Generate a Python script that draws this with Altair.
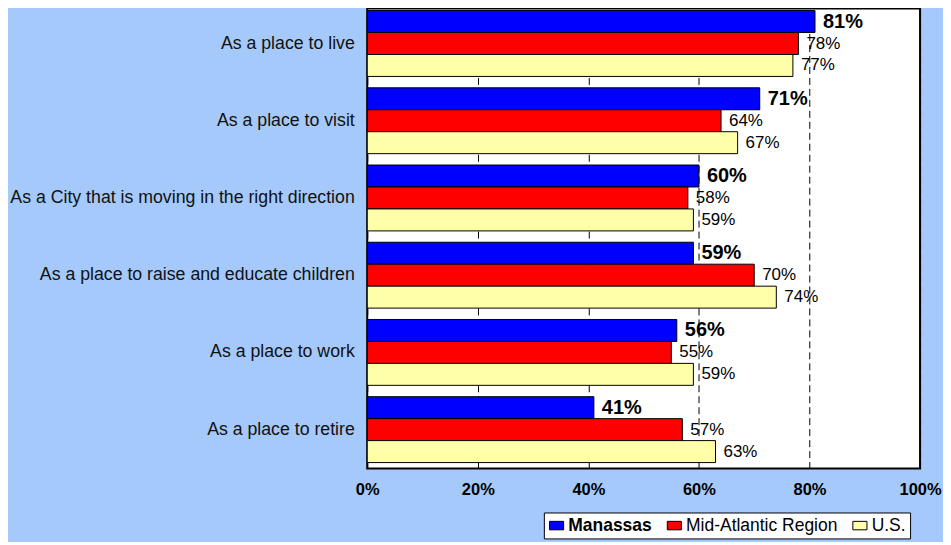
import altair as alt
import pandas as pd

questions = [
    "As a place to live",
    "As a place to visit",
    "As a City that is moving in the right direction",
    "As a place to raise and educate children",
    "As a place to work",
    "As a place to retire",
]
series = ["Manassas", "Mid-Atlantic Region", "U.S."]
manassas = [81, 71, 60, 59, 56, 41]
mid_atlantic = [78, 64, 58, 70, 55, 57]
us = [77, 67, 59, 74, 59, 63]
colors = ["#0000FF", "#FF0000", "#FFFFAA"]

rows = []
for i, q in enumerate(questions):
    for s, vals in zip(series, [manassas, mid_atlantic, us]):
        rows.append({"question": q, "series": s, "value": vals[i] / 100.0,
                     "label": f"{vals[i]}%"})
df = pd.DataFrame(rows)

y = alt.Y("question:N", sort=questions, title=None,
          scale=alt.Scale(paddingInner=0.147, paddingOuter=0.052, align=0.25),
          axis=alt.Axis(ticks=False, domain=False, labelFont="Liberation Sans",
                        labelFontSize=17.75, labelColor="#111111", labelPadding=13,
                        labelLimit=500))
yoff = alt.YOffset("series:N", sort=series, scale=alt.Scale(paddingInner=0, paddingOuter=0))

x = alt.X("value:Q", title=None,
          scale=alt.Scale(domain=[0, 1], nice=False),
          axis=alt.Axis(format=".0%", values=[0, 0.2, 0.4, 0.6, 0.8, 1.0],
                        grid=True, gridDash=[7, 4], gridColor="#000000",
                        gridWidth=1, gridOpacity=1, ticks=False, domain=False,
                        labelFont="Liberation Sans", labelFontSize=16.5,
                        labelFontWeight="bold", labelColor="#000000",
                        labelPadding=13, labelFlush=False))

bars = alt.Chart(df).mark_bar(stroke="#000000", strokeWidth=1).encode(
    y=y, yOffset=yoff, x=x,
    color=alt.Color("series:N", sort=series,
                    scale=alt.Scale(domain=series, range=colors),
                    legend=alt.Legend(
                        title=None, orient="none", direction="horizontal",
                        legendX=177, legendY=505,
                        symbolType="M-1,-0.6H1V0.6H-1Z", symbolSize=200,
                        symbolStrokeColor="#000000", symbolStrokeWidth=1,
                        symbolOpacity=1,
                        labelFont="Liberation Sans", labelFontSize=17.5,
                        labelColor="#000000",
                        labelFontWeight=alt.ExprRef("datum.label == 'Manassas' ? 'bold' : 'normal'"),
                        columnPadding=12, symbolOffset=0, labelOffset=3,
                        fillColor="#FFFFFF", strokeColor="#000000",
                        padding=4, labelLimit=300)),
)

text_bold = alt.Chart(df).transform_filter(alt.datum.series == "Manassas").mark_text(
    align="left", baseline="middle", dx=8, font="Liberation Sans",
    color="#000000", fontSize=20, fontWeight="bold").encode(
    y=alt.Y("question:N", sort=questions),
    yOffset=alt.YOffset("series:N", sort=series),
    x="value:Q",
    text="label:N",
)
text_norm = alt.Chart(df).transform_filter(alt.datum.series != "Manassas").mark_text(
    align="left", baseline="middle", dx=8, font="Liberation Sans",
    color="#000000", fontSize=17).encode(
    y=alt.Y("question:N", sort=questions),
    yOffset=alt.YOffset("series:N", sort=series),
    x="value:Q",
    text="label:N",
)

chart = alt.layer(bars, text_bold, text_norm).properties(
    width=554, height=461, background="#A4C9FA",
    padding={"left": 1, "top": 0, "right": 1, "bottom": 2},
).configure_view(
    fill="#FFFFFF", stroke="#000000", strokeWidth=2
)

chart.save("out.html", embed_options={"renderer": "svg", "actions": False})
